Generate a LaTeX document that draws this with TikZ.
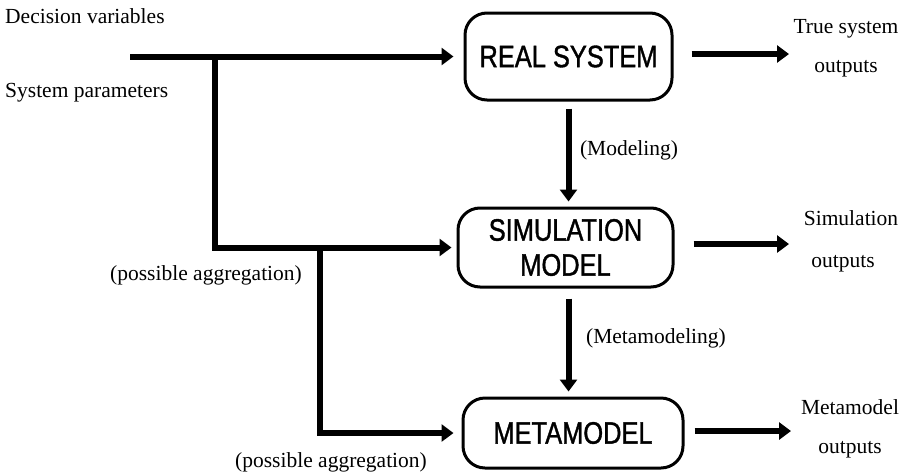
\documentclass[tikz,border=0pt]{standalone}
\usepackage{fontspec}
\setmainfont{Liberation Serif}
\newfontfamily\boxfont[FakeStretch=0.82,FakeBold=1.2]{Liberation Sans}
\usetikzlibrary{arrows.meta}

\begin{document}
\begin{tikzpicture}[x=1pt,y=-1pt,
  lbl/.style={font=\fontsize{21.5}{24}\selectfont, inner sep=0pt},
  sysbox/.style={draw, line width=3pt, rounded corners=22pt, inner sep=0pt,
    align=center, font=\boxfont\fontsize{31}{35}\selectfont},
  flow/.style={line width=6pt, -{Triangle[length=12pt,width=17pt]}}]
\useasboundingbox (0,0) rectangle (912,474);

% the three levels of abstraction
\node[sysbox, minimum width=207pt, minimum height=87pt] (real) at (568.5,56.5) {REAL SYSTEM};
\node[sysbox, minimum width=215pt, minimum height=79pt] (sim) at (565.5,247.5) {SIMULATION\\MODEL};
\node[sysbox, minimum width=220pt, minimum height=70pt] (meta) at (573,433) {METAMODEL};

% inputs and their branches
\coordinate (dv) at (130,56.5);
\coordinate (j1) at (215,56.5);
\coordinate (j2) at (320,247.5);
\draw[flow, shorten >=10pt] (dv) -- (real.west);
\draw[flow, shorten >=5pt] (j1) |- (sim.west);
\draw[flow, shorten >=8pt] (j2) |- (meta.west);

% modeling steps
\draw[flow, shorten <=7pt, shorten >=5pt] (real.south) -- (real.south |- sim.north);
\draw[flow, shorten <=10pt, shorten >=5pt] (real.south |- sim.south) -- (real.south |- meta.north);

% outputs
\coordinate (o1) at (789,54);
\coordinate (o2) at (789,244);
\coordinate (o3) at (791,431);
\draw[flow, shorten <=18pt] (real.east |- o1) -- (o1);
\draw[flow, shorten <=19pt] (sim.east |- o2) -- (o2);
\draw[flow, shorten <=10pt] (meta.east |- o3) -- (o3);

% labels
\node[lbl, anchor=base west] (decv) at (5,23) {Decision variables};
\node[lbl, anchor=base west] (sysp) at (5,97) {System parameters};
\node[lbl, anchor=base west] (agg1) at (110,280) {(possible aggregation)};
\node[lbl, anchor=base west] (agg2) at (235,467) {(possible aggregation)};
\node[lbl] (modl) at (629,150) {(Modeling)};
\node[lbl] (mmodl) at (656,338) {(Metamodeling)};
\node[lbl, anchor=base] (tso1) at (846,33) {True system};
\node[lbl, anchor=base] (tso2) at (846,72) {outputs};
\node[lbl, anchor=base] (so1) at (851,225) {Simulation};
\node[lbl, anchor=base] (so2) at (843,267) {outputs};
\node[lbl, anchor=base] (mo1) at (850,414) {Metamodel};
\node[lbl, anchor=base] (mo2) at (850,453) {outputs};
\end{tikzpicture}
\end{document}
